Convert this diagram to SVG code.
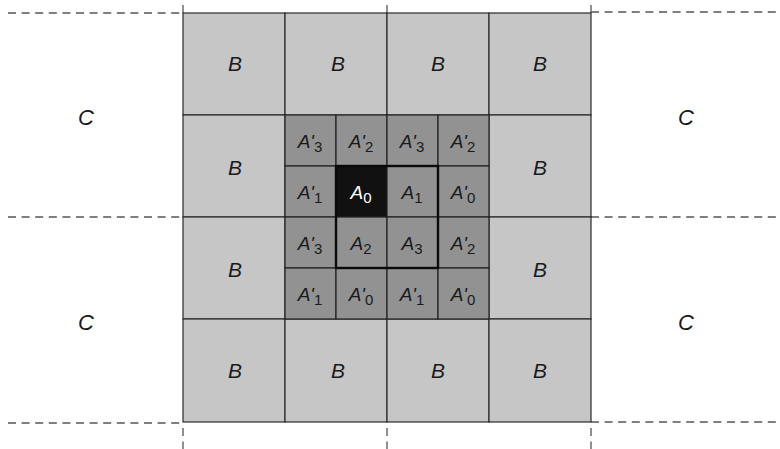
<svg xmlns="http://www.w3.org/2000/svg" width="780" height="449" viewBox="0 0 780 449">
<style>
.bg{fill:#ffffff}
.b{fill:#c6c6c6;stroke:#2a2a2a;stroke-width:1.2}
.a{fill:#929292;stroke:#222;stroke-width:1.2}
.a0{fill:#111111;stroke:#111;stroke-width:1.2}
.blk{fill:none;stroke:#0a0a0a;stroke-width:2.4}
.dash{fill:none;stroke:#555;stroke-width:1.3;stroke-dasharray:8 5.6}
text{font-family:"Liberation Sans",Arial,sans-serif;font-style:italic;fill:#1a1a1a;text-anchor:middle}
.lb{font-size:21px}
.lc{font-size:22px}
.la{font-size:19px}
.sub{font-size:15px;font-style:normal}
.w{fill:#ffffff}
</style>
<rect class="bg" x="0" y="0" width="780" height="449"/>
<g id="connectors">
  <line class="dash" x1="8" y1="13" x2="183" y2="13"/>
  <line class="dash" x1="591" y1="12" x2="778" y2="12"/>
  <line class="dash" x1="8" y1="217" x2="183" y2="217"/>
  <line class="dash" x1="591" y1="217" x2="778" y2="217"/>
  <line class="dash" x1="8" y1="423" x2="183" y2="423"/>
  <line class="dash" x1="591" y1="422" x2="778" y2="422"/>
  <line class="dash" x1="183" y1="13" x2="183" y2="0"/>
  <line class="dash" x1="387" y1="13" x2="387" y2="0"/>
  <line class="dash" x1="591" y1="13" x2="591" y2="0"/>
  <line class="dash" x1="183" y1="428" x2="183" y2="449"/>
  <line class="dash" x1="387" y1="428" x2="387" y2="449"/>
  <line class="dash" x1="591" y1="428" x2="591" y2="449"/>
</g>
<g id="B-cells">
  <g id="B1"><rect class="b" x="183" y="13" width="102" height="102"/><text class="lb" x="235" y="71">B</text></g>
  <g id="B2"><rect class="b" x="285" y="13" width="102" height="102"/><text class="lb" x="338" y="71">B</text></g>
  <g id="B3"><rect class="b" x="387" y="13" width="102" height="102"/><text class="lb" x="438" y="71">B</text></g>
  <g id="B4"><rect class="b" x="489" y="13" width="102" height="102"/><text class="lb" x="540" y="71">B</text></g>
  <g id="B5"><rect class="b" x="183" y="115" width="102" height="102"/><text class="lb" x="235" y="175">B</text></g>
  <g id="B6"><rect class="b" x="489" y="115" width="102" height="102"/><text class="lb" x="540" y="175">B</text></g>
  <g id="B7"><rect class="b" x="183" y="217" width="102" height="102"/><text class="lb" x="235" y="277">B</text></g>
  <g id="B8"><rect class="b" x="489" y="217" width="102" height="102"/><text class="lb" x="540" y="277">B</text></g>
  <g id="B9"><rect class="b" x="183" y="319" width="102" height="103"/><text class="lb" x="235" y="378">B</text></g>
  <g id="B10"><rect class="b" x="285" y="319" width="102" height="103"/><text class="lb" x="338" y="378">B</text></g>
  <g id="B11"><rect class="b" x="387" y="319" width="102" height="103"/><text class="lb" x="438" y="378">B</text></g>
  <g id="B12"><rect class="b" x="489" y="319" width="102" height="103"/><text class="lb" x="540" y="378">B</text></g>
</g>
<g id="A-cells">
  <g id="Ap3a"><rect class="a" x="285" y="115" width="51" height="51"/><text class="la" x="310" y="148">A'<tspan class="sub" dy="4">3</tspan></text></g>
  <g id="Ap2a"><rect class="a" x="336" y="115" width="51" height="51"/><text class="la" x="361" y="148">A'<tspan class="sub" dy="4">2</tspan></text></g>
  <g id="Ap3b"><rect class="a" x="387" y="115" width="51" height="51"/><text class="la" x="412" y="148">A'<tspan class="sub" dy="4">3</tspan></text></g>
  <g id="Ap2b"><rect class="a" x="438" y="115" width="51" height="51"/><text class="la" x="463" y="148">A'<tspan class="sub" dy="4">2</tspan></text></g>
  <g id="Ap1a"><rect class="a" x="285" y="166" width="51" height="51"/><text class="la" x="310" y="199">A'<tspan class="sub" dy="4">1</tspan></text></g>
  <g id="A0"><rect class="a0" x="336" y="166" width="51" height="51"/><text class="la w" x="361" y="199">A<tspan class="sub w" dy="4">0</tspan></text></g>
  <g id="A1"><rect class="a" x="387" y="166" width="51" height="51"/><text class="la" x="412" y="199">A<tspan class="sub" dy="4">1</tspan></text></g>
  <g id="Ap0a"><rect class="a" x="438" y="166" width="51" height="51"/><text class="la" x="463" y="199">A'<tspan class="sub" dy="4">0</tspan></text></g>
  <g id="Ap3c"><rect class="a" x="285" y="217" width="51" height="51"/><text class="la" x="310" y="250">A'<tspan class="sub" dy="4">3</tspan></text></g>
  <g id="A2"><rect class="a" x="336" y="217" width="51" height="51"/><text class="la" x="361" y="250">A<tspan class="sub" dy="4">2</tspan></text></g>
  <g id="A3"><rect class="a" x="387" y="217" width="51" height="51"/><text class="la" x="412" y="250">A<tspan class="sub" dy="4">3</tspan></text></g>
  <g id="Ap2c"><rect class="a" x="438" y="217" width="51" height="51"/><text class="la" x="463" y="250">A'<tspan class="sub" dy="4">2</tspan></text></g>
  <g id="Ap1b"><rect class="a" x="285" y="268" width="51" height="51"/><text class="la" x="310" y="301">A'<tspan class="sub" dy="4">1</tspan></text></g>
  <g id="Ap0b"><rect class="a" x="336" y="268" width="51" height="51"/><text class="la" x="361" y="301">A'<tspan class="sub" dy="4">0</tspan></text></g>
  <g id="Ap1c"><rect class="a" x="387" y="268" width="51" height="51"/><text class="la" x="412" y="301">A'<tspan class="sub" dy="4">1</tspan></text></g>
  <g id="Ap0c"><rect class="a" x="438" y="268" width="51" height="51"/><text class="la" x="463" y="301">A'<tspan class="sub" dy="4">0</tspan></text></g>
  <rect id="A-block" class="blk" x="336" y="166" width="102" height="102"/>
</g>
<g id="C-regions">
  <g id="C1"><text class="lc" x="86" y="125">C</text></g>
  <g id="C2"><text class="lc" x="686" y="125">C</text></g>
  <g id="C3"><text class="lc" x="86" y="330">C</text></g>
  <g id="C4"><text class="lc" x="686" y="330">C</text></g>
</g>
</svg>
